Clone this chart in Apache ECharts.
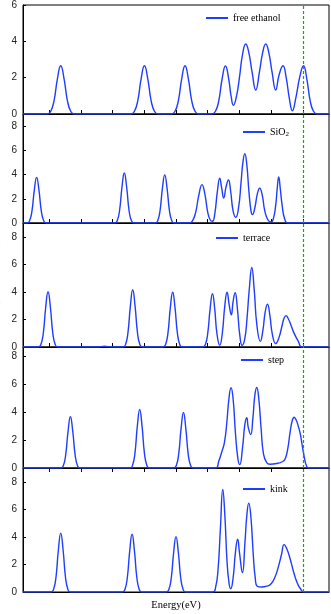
<!DOCTYPE html>
<html>
<head>
<meta charset="utf-8">
<title>DOS</title>
<script src="https://cdn.jsdelivr.net/npm/echarts@6.0.0/dist/echarts.min.js"></script>
<style>
  html, body { margin: 0; padding: 0; background: #fff; }
  #chart { width: 331px; height: 614px; }
</style>
</head>
<body>
<div id="chart"></div>
<script>
// energy (eV, Fermi level at 0) vs DOS (electrons/eV)
const freeEthanol = [
  [-17.65, 0],
  [-16.12, 0], [-15.90, 0.15], [-15.69, 0.74], [-15.48, 1.94], [-15.27, 2.66], [-15.06, 1.94], [-14.85, 0.74], [-14.64, 0.15], [-14.42, 0],
  [-10.84, 0], [-10.62, 0.15], [-10.41, 0.74], [-10.20, 1.94], [-9.99, 2.66], [-9.78, 1.94], [-9.57, 0.74], [-9.36, 0.15], [-9.14, 0],
  [-8.28, 0], [-8.06, 0.15], [-7.85, 0.74], [-7.64, 1.94], [-7.43, 2.66], [-7.22, 1.94], [-7.01, 0.74], [-6.80, 0.15], [-6.58, 0],
  [-5.73, 0], [-5.51, 0.15], [-5.30, 0.74], [-5.09, 1.94], [-4.88, 2.64], [-4.68, 1.95], [-4.52, 0.95], [-4.38, 0.48],
  [-4.18, 1.0], [-4.0, 2.0], [-3.80, 3.3], [-3.60, 3.85], [-3.40, 3.35], [-3.20, 2.3], [-2.97, 1.32],
  [-2.74, 2.3], [-2.54, 3.35], [-2.34, 3.85], [-2.14, 3.35], [-1.94, 2.3], [-1.71, 1.32],
  [-1.50, 2.15], [-1.25, 2.66], [-1.05, 2.0], [-0.85, 0.85], [-0.66, 0.17],
  [-0.46, 0.8], [-0.18, 2.1], [0.04, 2.66], [0.25, 1.94], [0.46, 0.74], [0.67, 0.15], [0.89, 0],
  [1.65, 0]
];
const sio2 = [
  [-17.65, 0],
  [-17.39, 0], [-17.24, 0.17], [-17.09, 0.94], [-16.94, 2.68], [-16.79, 3.77], [-16.64, 2.68], [-16.49, 0.94], [-16.34, 0.17], [-16.19, 0],
  [-11.86, 0], [-11.71, 0.18], [-11.56, 1.03], [-11.41, 2.93], [-11.26, 4.13], [-11.11, 2.93], [-10.96, 1.03], [-10.81, 0.18], [-10.66, 0],
  [-9.31, 0], [-9.16, 0.17], [-9.01, 0.99], [-8.86, 2.82], [-8.71, 3.97], [-8.56, 2.82], [-8.41, 0.99], [-8.26, 0.17], [-8.11, 0],
  [-7.16, 0], [-6.96, 0.18], [-6.76, 0.88], [-6.56, 2.3], [-6.36, 3.17], [-6.18, 2.4], [-6.0, 0.9], [-5.84, 0.25], [-5.70, 0.14],
  [-5.55, 0.8], [-5.40, 2.5], [-5.24, 3.69], [-5.12, 2.9], [-4.99, 2.07], [-4.84, 3.0], [-4.69, 3.55], [-4.55, 2.6], [-4.40, 1.0], [-4.23, 0.47],
  [-4.05, 1.3], [-3.90, 3.3], [-3.78, 5.0], [-3.66, 5.73], [-3.54, 4.9], [-3.40, 2.6], [-3.27, 1.0], [-3.18, 0.69],
  [-3.02, 1.3], [-2.87, 2.4], [-2.72, 2.87], [-2.56, 2.3], [-2.40, 1.0], [-2.20, 0.25], [-2.00, 0.08],
  [-1.85, 0.4], [-1.70, 1.6], [-1.62, 2.8], [-1.52, 3.80], [-1.42, 2.8], [-1.30, 1.4], [-1.15, 0.35], [-0.95, 0],
  [1.65, 0]
];
const terrace = [
  [-17.65, 0],
  [-16.67, 0], [-16.52, 0.18], [-16.37, 1.0], [-16.22, 2.85], [-16.07, 4.01], [-15.92, 2.85], [-15.77, 1.0], [-15.62, 0.18], [-15.47, 0],
  [-12.9, 0], [-12.52, 0.06], [-12.1, 0],
  [-11.33, 0], [-11.18, 0.18], [-11.03, 1.04], [-10.88, 2.95], [-10.73, 4.16], [-10.58, 2.95], [-10.43, 1.04], [-10.28, 0.18], [-10.13, 0],
  [-8.81, 0], [-8.66, 0.17], [-8.51, 0.99], [-8.36, 2.82], [-8.21, 3.97], [-8.06, 2.82], [-7.91, 0.99], [-7.76, 0.17], [-7.61, 0],
  [-6.30, 0], [-6.15, 0.17], [-6.0, 0.97], [-5.85, 2.75], [-5.70, 3.87], [-5.56, 2.8], [-5.42, 1.0], [-5.24, 0.12],
  [-5.08, 1.0], [-4.93, 2.9], [-4.78, 3.97], [-4.64, 3.0], [-4.51, 2.33], [-4.40, 3.3], [-4.27, 3.94], [-4.13, 2.8], [-3.98, 0.9], [-3.83, 0.12],
  [-3.66, 0.6], [-3.52, 2.1], [-3.37, 4.3], [-3.22, 5.77], [-3.07, 4.2], [-2.90, 1.6], [-2.68, 0.41],
  [-2.52, 1.2], [-2.38, 2.5], [-2.23, 3.10], [-2.08, 2.3], [-1.92, 0.9], [-1.71, 0.24],
  [-1.50, 0.7], [-1.30, 1.6], [-1.18, 2.1], [-1.06, 2.28], [-0.92, 2.05], [-0.80, 1.75], [-0.59, 1.1], [-0.28, 0.4], [-0.05, 0],
  [1.65, 0]
];
const step = [
  [-17.65, 0],
  [-15.26, 0], [-15.11, 0.16], [-14.96, 0.92], [-14.81, 2.61], [-14.66, 3.68], [-14.51, 2.61], [-14.36, 0.92], [-14.21, 0.16], [-14.06, 0],
  [-10.89, 0], [-10.74, 0.19], [-10.59, 1.05], [-10.44, 2.99], [-10.29, 4.21], [-10.14, 2.99], [-9.99, 1.05], [-9.84, 0.19], [-9.69, 0],
  [-8.13, 0], [-7.98, 0.18], [-7.83, 1.0], [-7.68, 2.83], [-7.53, 3.99], [-7.38, 2.83], [-7.23, 1.0], [-7.08, 0.18], [-6.93, 0],
  [-5.50, 0], [-5.30, 0.5], [-5.10, 1.2], [-4.95, 1.8], [-4.80, 3.2], [-4.66, 5.0], [-4.53, 5.77], [-4.40, 5.0], [-4.25, 2.5], [-4.10, 0.7], [-3.98, 0.24],
  [-3.80, 1.5], [-3.66, 3.1], [-3.54, 3.61], [-3.44, 2.9], [-3.29, 2.40],
  [-3.15, 3.6], [-3.03, 5.2], [-2.91, 5.79], [-2.78, 5.0], [-2.63, 2.8], [-2.48, 1.0], [-2.28, 0.38],
  [-2.07, 0.27], [-1.65, 0.32], [-1.30, 0.45], [-1.12, 0.65], [-0.95, 1.4], [-0.80, 2.6], [-0.67, 3.4], [-0.55, 3.65],
  [-0.42, 3.45], [-0.30, 3.05], [-0.17, 2.5], [-0.05, 1.7], [0.04, 1.1], [0.14, 0.5], [0.22, 0.2], [0.35, 0],
  [1.65, 0]
];
const kink = [
  [-17.65, 0],
  [-15.87, 0], [-15.72, 0.19], [-15.57, 1.07], [-15.42, 3.03], [-15.27, 4.27], [-15.12, 3.03], [-14.97, 1.07], [-14.82, 0.19], [-14.67, 0],
  [-11.37, 0], [-11.22, 0.18], [-11.07, 1.05], [-10.92, 2.97], [-10.77, 4.19], [-10.62, 2.97], [-10.47, 1.05], [-10.32, 0.18], [-10.17, 0],
  [-8.60, 0], [-8.45, 0.18], [-8.30, 1.0], [-8.15, 2.85], [-8.00, 4.02], [-7.85, 2.85], [-7.70, 1.0], [-7.55, 0.18], [-7.40, 0],
  [-5.68, 0], [-5.50, 0.35], [-5.35, 1.6], [-5.20, 4.6], [-5.05, 7.44], [-4.92, 5.6], [-4.78, 2.2], [-4.65, 0.6], [-4.55, 0.24],
  [-4.40, 1.0], [-4.25, 2.9], [-4.11, 3.83], [-4.00, 2.9], [-3.81, 1.41],
  [-3.65, 3.6], [-3.53, 5.6], [-3.41, 6.45], [-3.28, 5.5], [-3.12, 2.6], [-3.00, 1.0], [-2.88, 0.42],
  [-2.60, 0.36], [-2.28, 0.42], [-2.00, 0.6], [-1.75, 1.1], [-1.54, 1.84], [-1.35, 2.7], [-1.18, 3.44],
  [-1.00, 3.1], [-0.80, 2.4], [-0.64, 1.7], [-0.49, 1.1], [-0.33, 0.6], [-0.17, 0.27], [0.08, 0],
  [1.65, 0]
];

const panelNames = ['free ethanol', 'SiO2', 'terrace', 'step', 'kink'];
const panelData = [freeEthanol, sio2, terrace, step, kink];
const yMax = [6, 9, 9, 8.7, 9];
const yTicks = [[0, 2, 4, 6], [0, 2, 4, 6, 8], [0, 2, 4, 6, 8], [0, 2, 4, 6, 8], [0, 2, 4, 6, 8]];
const xTicks = [-16, -14, -12, -10, -8, -6, -4, -2, 0];
const fermiLevel = 0;

// layout of the five stacked panels (px)
const gridTop = [5, 114, 223, 347, 468];
const gridHeight = [109, 109, 124, 121, 124];
const legendLeft = [206, 243, 216, 241, 243];
const legendTop = [13, 127, 233, 355, 484];

const blue = '#1f3cff';
const green = '#1aa31a';
const serif = 'Liberation Serif, Times New Roman, serif';
const sans = 'Liberation Sans, Arial, sans-serif';

var chart = echarts.init(document.getElementById('chart'));

var grids = [], xAxes = [], yAxes = [], series = [], legends = [];
for (let i = 0; i < 5; i++) {
  grids.push({
    left: 23, right: 2, top: gridTop[i], height: gridHeight[i],
    show: true, borderColor: '#000', borderWidth: 1,
    containLabel: false, outerBoundsMode: 'none'
  });
  xAxes.push({
    gridIndex: i, type: 'value', min: -17.65, max: 1.65,
    axisLine: { onZero: false, lineStyle: { color: '#000', width: 1 } },
    axisTick: { show: i < 4, inside: i < 3, length: 4, customValues: xTicks, lineStyle: { color: '#000' } },
    axisLabel: { show: false },
    splitLine: { show: false },
    name: i === 4 ? 'Energy(eV)' : '',
    nameLocation: 'middle', nameGap: 8,
    nameTextStyle: { fontFamily: serif, fontSize: 10.5, color: '#000' }
  });
  yAxes.push({
    gridIndex: i, type: 'value', min: 0, max: yMax[i],
    axisLine: { show: true, onZero: false, lineStyle: { color: '#000', width: 1 } },
    axisTick: { show: true, inside: true, length: 3, customValues: yTicks[i], lineStyle: { color: '#000' } },
    axisLabel: { customValues: yTicks[i], fontFamily: sans, fontSize: 10, color: '#222', margin: 6 },
    splitLine: { show: false },
    name: i === 2 ? 'DOS(electrons/eV)' : '',
    nameLocation: 'middle', nameGap: 10, nameRotate: 90,
    nameTextStyle: { fontFamily: serif, fontSize: 11, color: '#000' }
  });
  series.push({
    name: panelNames[i], type: 'line',
    xAxisIndex: i, yAxisIndex: i,
    data: panelData[i],
    smooth: 0.5,
    showSymbol: false, symbol: 'none',
    color: blue,
    lineStyle: { color: blue, width: 1.4 },
    markLine: {
      silent: true, symbol: ['none', 'none'],
      label: { show: false },
      lineStyle: { color: green, type: [3, 2], width: 1.2 },
      data: [{ xAxis: fermiLevel }]
    }
  });
  legends.push({
    data: [{ name: panelNames[i], icon: 'rect' }],
    left: legendLeft[i], top: legendTop[i], padding: 0,
    itemWidth: 22, itemHeight: 2,
    textStyle: {
      fontFamily: serif, fontSize: 10, color: '#000',
      rich: { sub: { fontFamily: serif, fontSize: 7, color: '#000', padding: [5, 0, 0, 0] } }
    },
    formatter: function (name) {
      return name === 'SiO2' ? 'SiO{sub|2}' : name;
    }
  });
}

var option = {
  animation: false,
  backgroundColor: '#fff',
  grid: grids,
  xAxis: xAxes,
  yAxis: yAxes,
  legend: legends,
  series: series
};
chart.setOption(option);
</script>
</body>
</html>
